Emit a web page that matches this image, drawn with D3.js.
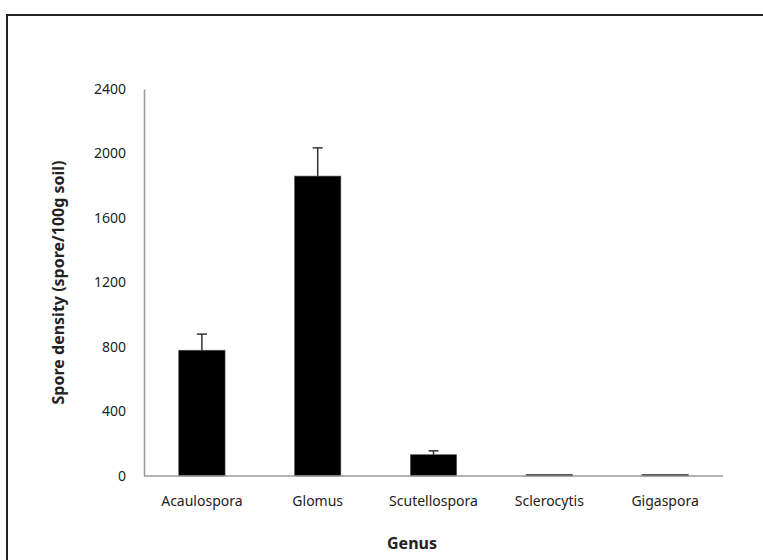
<!DOCTYPE html>
<html>
<head>
<meta charset="utf-8">
<script src="https://cdn.jsdelivr.net/npm/d3@7"></script>
<style>
  body { margin: 0; background: #fff; }
  text { font-family: "Noto Sans", "Open Sans", sans-serif; fill: #222; }
</style>
</head>
<body>
<svg class="viz"></svg>
<script>
var width = 763,
  height = 560;

var genus = ["Acaulospora", "Glomus", "Scutellospora", "Sclerocytis", "Gigaspora"];
var density = [780, 1860, 132, 10, 10];
var density_err = [100, 175, 24, 0, 0];
var y_ticks = [0, 400, 800, 1200, 1600, 2000, 2400];

var margin = { left: 144, right: 40, top: 89, bottom: 84 };

var viz = d3.select(".viz")
  .attr("width", width)
  .attr("height", height);

// outer frame (right and bottom edges run off the picture)
viz.append("rect")
  .attr("x", 7)
  .attr("y", 15)
  .attr("width", 780)
  .attr("height", 600)
  .attr("fill", "none")
  .attr("stroke", "#222")
  .attr("stroke-width", 2);

var x = d3.scaleBand()
  .domain(genus)
  .range([margin.left, width - margin.right])
  .paddingInner(0.6)
  .paddingOuter(0.3);

var y = d3.scaleLinear()
  .domain([0, 2400])
  .range([height - margin.bottom, margin.top]);

// bars
viz.selectAll(".bar")
  .data(genus)
  .enter()
  .append("rect")
  .attr("class", "bar")
  .attr("x", d => x(d))
  .attr("width", x.bandwidth())
  .attr("y", (d, i) => y(density[i]))
  .attr("height", (d, i) => y(0) - y(density[i]))
  .attr("fill", "#000")
  .attr("stroke", "#555")
  .attr("stroke-width", 0.6);

// error bars, upward only
var err = viz.selectAll(".err")
  .data(genus.filter((d, i) => density_err[i] > 0))
  .enter()
  .append("g")
  .attr("class", "err")
  .attr("stroke", "#333")
  .attr("stroke-width", 1.5);
err.append("line")
  .attr("x1", d => x(d) + x.bandwidth() / 2)
  .attr("x2", d => x(d) + x.bandwidth() / 2)
  .attr("y1", d => y(density[genus.indexOf(d)]))
  .attr("y2", d => y(density[genus.indexOf(d)] + density_err[genus.indexOf(d)]));
err.append("line")
  .attr("x1", d => x(d) + x.bandwidth() / 2 - 5)
  .attr("x2", d => x(d) + x.bandwidth() / 2 + 5)
  .attr("y1", d => y(density[genus.indexOf(d)] + density_err[genus.indexOf(d)]))
  .attr("y2", d => y(density[genus.indexOf(d)] + density_err[genus.indexOf(d)]));

// y axis
var y_axis = viz.append("g")
  .attr("transform", "translate(" + margin.left + ",0)")
  .call(d3.axisLeft(y).tickValues(y_ticks).tickSize(0).tickPadding(18).tickFormat(d3.format("d")));
y_axis.select(".domain").attr("stroke", "#999").attr("stroke-width", 1.5);
y_axis.selectAll("text").style("font-size", "14px").attr("fill", "#222");

// x axis
var x_axis = viz.append("g")
  .attr("transform", "translate(0," + y(0) + ")")
  .call(d3.axisBottom(x).tickSize(0).tickPadding(20));
x_axis.select(".domain")
  .attr("d", "M" + margin.left + ",0H" + (width - margin.right))
  .attr("stroke", "#999").attr("stroke-width", 1.5);
x_axis.selectAll("text").style("font-size", "14px").attr("fill", "#222");

// axis titles
viz.append("text")
  .attr("transform", "translate(64," + ((y(0) + y(2400)) / 2) + ") rotate(-90)")
  .attr("text-anchor", "middle")
  .style("font-size", "16px")
  .style("font-weight", "bold")
  .text("Spore density (spore/100g soil)");

viz.append("text")
  .attr("x", 412)
  .attr("y", 549)
  .attr("text-anchor", "middle")
  .style("font-size", "16px")
  .style("font-weight", "bold")
  .text("Genus");
</script>
</body>
</html>
